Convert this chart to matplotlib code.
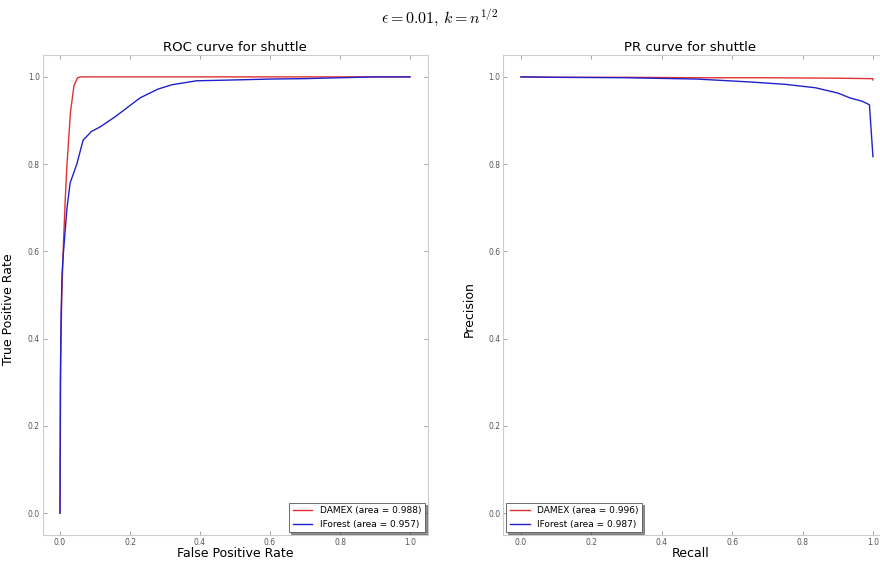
import matplotlib
matplotlib.use("Agg")
import matplotlib.pyplot as plt

# ROC curve points
roc_damex_fpr = [0.0, 0.002, 0.005, 0.01, 0.015, 0.02, 0.03, 0.04, 0.05, 0.06, 1.0]
roc_damex_tpr = [0.0, 0.35, 0.5, 0.62, 0.72, 0.8, 0.92, 0.98, 0.998, 1.0, 1.0]
roc_if_fpr = [0.0, 0.001, 0.003, 0.006, 0.01, 0.02, 0.029, 0.048, 0.066, 0.09, 0.114,
              0.16, 0.229, 0.28, 0.32, 0.39, 0.5, 0.6, 0.7, 0.8, 0.9, 1.0]
roc_if_tpr = [0.0, 0.3, 0.45, 0.55, 0.6, 0.7, 0.757, 0.80, 0.855, 0.875, 0.885,
              0.91, 0.952, 0.972, 0.982, 0.991, 0.993, 0.995, 0.996, 0.998, 1.0, 1.0]

# PR curve points
pr_damex_rec = [0.0, 0.1, 0.3, 0.5, 0.7, 0.9, 0.99, 1.0, 1.0]
pr_damex_prec = [1.0, 0.999, 0.999, 0.998, 0.998, 0.997, 0.996, 0.996, 0.993]
pr_if_rec = [0.0, 0.1, 0.3, 0.5, 0.647, 0.75, 0.837, 0.9, 0.934, 0.97, 0.99, 1.0]
pr_if_prec = [1.0, 0.999, 0.998, 0.995, 0.9885, 0.983, 0.975, 0.963, 0.952, 0.944, 0.936, 0.817]

damex_roc_label = "DAMEX (area = 0.988)"
if_roc_label = "IForest (area = 0.957)"
damex_pr_label = "DAMEX (area = 0.996)"
if_pr_label = "IForest (area = 0.987)"

ticks = [0.0, 0.2, 0.4, 0.6, 0.8, 1.0]

plt.rcParams["mathtext.fontset"] = "cm"

fig = plt.figure(figsize=(8.8, 5.63), dpi=100)
ax1 = fig.add_axes([0.0483, 0.0497, 0.4375, 0.8525])
ax2 = fig.add_axes([0.572, 0.0497, 0.44, 0.8525])


def style(ax):
    ax.set_xlim(-0.05, 1.05)
    ax.set_ylim(-0.05, 1.05)
    ax.set_xticks(ticks)
    ax.set_yticks(ticks)
    ax.tick_params(direction="in", top=True, right=True, labelsize=5.5,
                   labelcolor="#555555", color="#999999", length=3, width=0.6, pad=2)
    for sp in ax.spines.values():
        sp.set_color("#cccccc")
        sp.set_linewidth(0.8)


def legend(ax, loc):
    leg = ax.legend(loc=loc, fontsize=6.5, fancybox=False, borderaxespad=0.3,
                    handlelength=2.2, shadow={"ox": 1.5, "oy": -1.5, "color": "#222222"})
    leg.get_frame().set_edgecolor("#555555")
    leg.get_frame().set_linewidth(0.6)


ax1.plot(roc_damex_fpr, roc_damex_tpr, color="#e03030", lw=1.0, label=damex_roc_label)
ax1.plot(roc_if_fpr, roc_if_tpr, color="#2020cc", lw=1.0, label=if_roc_label)
style(ax1)
ax1.set_title("ROC curve for shuttle", fontsize=9.5, pad=3)
ax1.set_xlabel("False Positive Rate", fontsize=9, labelpad=0)
ax1.set_ylabel("True Positive Rate", fontsize=9, labelpad=9, y=0.47)
legend(ax1, "lower right")

ax2.plot(pr_damex_rec, pr_damex_prec, color="#e03030", lw=1.0, label=damex_pr_label)
ax2.plot(pr_if_rec, pr_if_prec, color="#2020cc", lw=1.0, label=if_pr_label)
style(ax2)
ax2.set_title("PR curve for shuttle", fontsize=9.5, pad=3, x=0.483)
ax2.set_xlabel("Recall", fontsize=9, labelpad=0, x=0.483)
ax2.set_ylabel("Precision", fontsize=9, labelpad=9, y=0.47)
legend(ax2, "lower left")

fig.suptitle(r"$\epsilon=0.01,\, k=n^{1/2}$", fontsize=11.5, y=0.988)

fig.savefig("out.png", dpi=100)
